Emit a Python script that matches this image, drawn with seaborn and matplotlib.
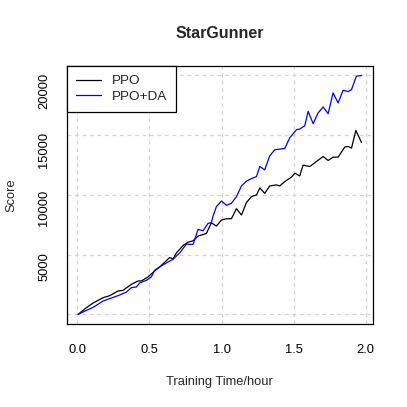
import numpy as np
import pandas as pd
import matplotlib
matplotlib.use("Agg")
import matplotlib.pyplot as plt
import seaborn as sns

# ---- data ----
ppo_x = [0.005, 0.062, 0.109, 0.178, 0.224, 0.282, 0.317, 0.375, 0.421, 0.444,
         0.490, 0.536, 0.571, 0.640, 0.664, 0.687, 0.733, 0.768, 0.802, 0.837,
         0.895, 0.929, 0.964, 0.999, 1.034, 1.068, 1.103, 1.138, 1.172, 1.207,
         1.242, 1.265, 1.299, 1.334, 1.380, 1.403, 1.438, 1.484, 1.508, 1.542,
         1.565, 1.612, 1.658, 1.704, 1.739, 1.773, 1.808, 1.854, 1.877, 1.901,
         1.931, 1.970]
ppo_y = [943, 1514, 1914, 2371, 2543, 2943, 3000, 3514, 3800, 3800,
         4143, 4657, 5000, 5800, 5686, 6200, 6829, 7114, 7229, 7629,
         7857, 8771, 8486, 9000, 9114, 9114, 9971, 9429, 10486, 11000,
         11143, 11743, 11286, 11914, 12000, 11914, 12286, 12657, 13000, 12771,
         13686, 13571, 14000, 14429, 14086, 14371, 14371, 15229, 15286, 15143,
         16657, 15629]

da_x = [0.005, 0.062, 0.109, 0.178, 0.236, 0.282, 0.340, 0.375, 0.409, 0.432,
        0.479, 0.513, 0.536, 0.571, 0.617, 0.664, 0.710, 0.756, 0.802, 0.837,
        0.872, 0.906, 0.929, 0.941, 0.964, 0.999, 1.034, 1.068, 1.103, 1.138,
        1.172, 1.207, 1.242, 1.265, 1.299, 1.334, 1.369, 1.403, 1.438, 1.473,
        1.519, 1.542, 1.577, 1.600, 1.635, 1.669, 1.704, 1.739, 1.773, 1.808,
        1.843, 1.877, 1.901, 1.935, 1.970]
da_y = [943, 1286, 1543, 2086, 2343, 2543, 2857, 3229, 3286, 3629,
        3857, 4143, 4714, 5000, 5343, 5657, 6200, 6943, 6914, 8200,
        8086, 8714, 8771, 9343, 10143, 10629, 10257, 10429, 11000, 11914,
        12314, 12543, 12714, 13571, 13286, 14486, 15000, 15057, 15114, 16029,
        16714, 16771, 17057, 18286, 17229, 18143, 18657, 18086, 19857, 19000,
        20086, 19971, 20143, 21286, 21343]

series_names = ["PPO", "PPO+DA"]
x_ticks = [0.0, 0.5, 1.0, 1.5, 2.0]
x_tick_labels = ["0.0", "0.5", "1.0", "1.5", "2.0"]
y_ticks = [5000, 10000, 15000, 20000]
y_tick_labels = ["5000", "10000", "15000", "20000"]
title = "StarGunner"
x_label = "Training Time/hour"
y_label = "Score"

df = pd.concat([
    pd.DataFrame({"x": ppo_x, "y": ppo_y, "series": series_names[0]}),
    pd.DataFrame({"x": da_x, "y": da_y, "series": series_names[1]}),
], ignore_index=True)

sns.set_style("white")
plt.rcParams["font.family"] = ["Liberation Sans", "DejaVu Sans"]

fig = plt.figure(figsize=(4.07, 4.07), dpi=100)
ax = fig.add_axes([0.164, 0.204, 0.752, 0.634])

# R-style dashed grid
xmin, xmax = min(min(ppo_x), min(da_x)), max(max(ppo_x), max(da_x))
ymin, ymax = min(min(ppo_y), min(da_y)), max(max(ppo_y), max(da_y))
for gx in x_ticks:
    ax.axvline(gx, color="#d3d3d3", lw=0.9, ls=(0, (3, 3)), zorder=0)
for gy in np.linspace(ymin, ymax, 5):
    ax.axhline(gy, color="#d3d3d3", lw=0.9, ls=(0, (3, 3)), zorder=0)

sns.lineplot(data=df, x="x", y="y", hue="series", hue_order=series_names,
             palette={"PPO": "black", "PPO+DA": "#0000ff"},
             estimator=None, sort=False, lw=0.9, ax=ax, zorder=3)

xr = xmax - xmin
yr = ymax - ymin
ax.set_xlim(xmin - 0.04 * xr, xmax + 0.04 * xr)
ax.set_ylim(ymin - 0.04 * yr, ymax + 0.04 * yr)

ax.set_xticks(x_ticks)
ax.set_xticklabels(x_tick_labels)
ax.set_yticks(y_ticks)
ax.set_yticklabels(y_tick_labels, rotation=90, va="center")
ax.tick_params(axis="both", direction="out", length=5, width=0.8,
               color="#333333", labelsize=9.3, labelcolor="black")
ax.tick_params(axis="x", pad=9.5)
ax.tick_params(axis="y", pad=7)

for sp in ax.spines.values():
    sp.set_visible(True)
    sp.set_color("black")
    sp.set_linewidth(0.9)

ax.set_title(title, fontsize=11.5, fontweight="bold", pad=20)
ax.set_xlabel(x_label, fontsize=9.3)
ax.set_ylabel(y_label, fontsize=9.3)
ax.xaxis.set_label_coords(0.5, -0.2)
ax.yaxis.set_label_coords(-0.16, 0.5)

leg = ax.legend(loc="upper left", bbox_to_anchor=(0, 1), borderaxespad=0,
                fancybox=False, framealpha=1, edgecolor="black",
                fontsize=9.7, handlelength=1.85, handletextpad=0.85,
                labelspacing=0.22, borderpad=0.66, title=None)
leg.get_frame().set_linewidth(0.9)
leg.set_zorder(5)

fig.savefig("out.png", dpi=100, facecolor="white")
